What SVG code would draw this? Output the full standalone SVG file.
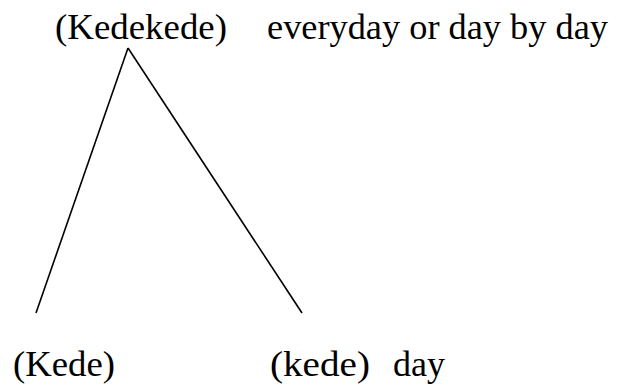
<svg xmlns="http://www.w3.org/2000/svg" width="620" height="385" viewBox="0 0 620 385">
<style>
.t{font-family:"Liberation Serif","Times New Roman",serif;font-size:36px;fill:#000}
.c{stroke:#000;stroke-width:1.6;fill:none}
</style>
<rect width="620" height="385" fill="#fff"/>
<g id="connectors">
<line class="c" x1="128" y1="48" x2="36" y2="313"/>
<line class="c" x1="128" y1="48" x2="302" y2="313"/>
</g>
<g id="root"><text class="t" x="55" y="39" textLength="172" lengthAdjust="spacingAndGlyphs">(Kedekede)</text></g>
<g id="root-gloss"><text class="t" x="267" y="39" textLength="341" lengthAdjust="spacingAndGlyphs">everyday or day by day</text></g>
<g id="left"><text class="t" x="13" y="376" textLength="102" lengthAdjust="spacingAndGlyphs">(Kede)</text></g>
<g id="right"><text class="t" x="270" y="376" textLength="100" lengthAdjust="spacingAndGlyphs">(kede)</text></g>
<g id="right-gloss"><text class="t" x="393" y="376">day</text></g>
</svg>
